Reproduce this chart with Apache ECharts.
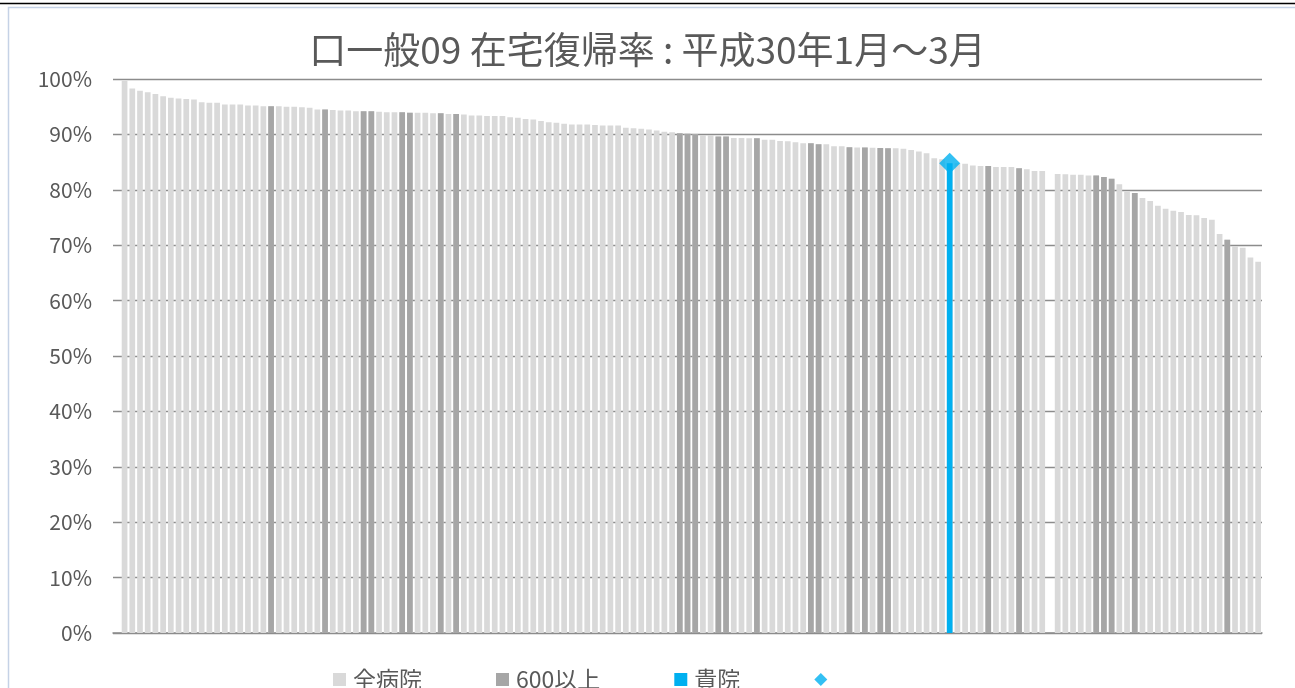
<!DOCTYPE html>
<html><head><meta charset="utf-8">
<script src="https://cdn.jsdelivr.net/npm/echarts@6/dist/echarts.min.js"></script>
<style>html,body{margin:0;padding:0;background:#fff}#c{width:1295px;height:688px}</style>
</head><body><div id="c"></div>
<script>
// ---- data ----
const titleText = '口一般09 在宅復帰率 : 平成30年1月～3月';
const seriesNames = ['全病院', '600以上', '貴院', ' '];
const yTickValues = [0, 10, 20, 30, 40, 50, 60, 70, 80, 90, 100];
// 在宅復帰率 (%) for every hospital, sorted; first slot and slot 121 are empty
const allHospitals = [null,
  99.7, 98.3, 97.9, 97.6, 97.3, 96.9, 96.6, 96.5, 96.4, 96.3,
  95.8, 95.7, 95.7, 95.4, 95.4, 95.4, 95.2, 95.2, 95.1, 95.1,
  95.1, 95.0, 95.0, 94.9, 94.8, 94.5, 94.5, 94.4, 94.3, 94.3,
  94.2, 94.2, 94.2, 94.1, 94.0, 94.0, 94.0, 93.9, 93.9, 93.9,
  93.8, 93.8, 93.7, 93.7, 93.6, 93.4, 93.4, 93.3, 93.3, 93.3,
  93.1, 93.0, 92.8, 92.7, 92.4, 92.2, 92.1, 91.9, 91.8, 91.8,
  91.8, 91.7, 91.6, 91.6, 91.6, 91.2, 91.1, 91.0, 90.9, 90.7,
  90.5, 90.4, 90.2, 90.1, 90.0, 89.9, 89.9, 89.6, 89.6, 89.35,
  89.35, 89.3, 89.3, 89.05, 89.05, 88.8, 88.75, 88.6, 88.4, 88.4,
  88.2, 88.2, 87.85, 87.85, 87.7, 87.65, 87.65, 87.6, 87.55, 87.5,
  87.5, 87.4, 87.2, 86.9, 86.6, 85.7, 85.5, 84.8, 84.8, 84.7,
  84.4, 84.3, 84.3, 84.1, 84.1, 84.1, 83.9, 83.7, 83.4, 83.4,
  null, 82.85, 82.8, 82.7, 82.7, 82.6, 82.6, 82.3, 82.0, 81.0,
  79.7, 79.4, 78.5, 78.0, 77.1, 76.6, 76.2, 76.0, 75.45, 75.4,
  74.9, 74.6, 72.0, 71.0, 69.8, 69.55, 67.8, 67.0
];
// positions of hospitals with 600 beds or more
const largeHospitalIdx = [20, 27, 32, 33, 37, 38, 42, 44, 73, 74, 75, 78, 79, 83,
  90, 91, 95, 97, 99, 100, 113, 117, 127, 128, 129, 132, 144];
// position of own hospital
const ownHospitalIdx = 108;

// ---- build ----
const categories = allHospitals.map((_, i) => String(i));
const largeSeries = allHospitals.map((v, i) => largeHospitalIdx.includes(i) ? v : null);
const ownSeries = allHospitals.map((v, i) => i === ownHospitalIdx ? v : null);
const markerSeries = [[String(ownHospitalIdx), allHospitals[ownHospitalIdx]]];

const FONT = '"Noto Sans CJK JP", "Noto Sans", sans-serif';
const TXT = '#595959';
const GRID = '#8c8c8c';

const chart = echarts.init(document.getElementById('c'), null, { renderer: 'canvas' });
chart.setOption({
  animation: false,
  backgroundColor: '#ffffff',
  textStyle: { fontFamily: FONT },
  title: {
    text: titleText, left: 'center', top: 26,
    textStyle: { fontFamily: FONT, fontSize: 37, fontWeight: 'normal', color: TXT }
  },
  graphic: [
    { type: 'line', shape: { x1: 0, y1: 3.5, x2: 1295, y2: 3.5 }, style: { stroke: '#000', lineWidth: 1.5 }, silent: true },
    { type: 'rect', shape: { x: 8.5, y: 7.5, width: 1300, height: 700 }, style: { fill: 'none', stroke: '#c5d2e6', lineWidth: 1.5 }, silent: true }
  ],
  legend: {
    top: 663, left: 328,
    itemGap: 74, itemWidth: 13, itemHeight: 13,
    textStyle: { fontFamily: FONT, fontSize: 23, color: TXT, padding: [0, 0, 0, 2] },
    data: [
      { name: seriesNames[0], icon: 'rect' },
      { name: seriesNames[1], icon: 'rect' },
      { name: seriesNames[2], icon: 'rect' },
      { name: seriesNames[3], icon: 'diamond', itemStyle: { color: '#00b0f0' } }
    ]
  },
  grid: { left: 113, right: 33, top: 79, bottom: 55, containLabel: false },
  xAxis: {
    type: 'category', data: categories,
    axisLine: { show: true, lineStyle: { color: GRID, width: 1.5 } },
    axisTick: { show: false }, axisLabel: { show: false }, splitLine: { show: false }
  },
  yAxis: {
    type: 'value', min: yTickValues[0], max: yTickValues[yTickValues.length - 1], interval: 10,
    axisLine: { show: false }, axisTick: { show: false },
    axisLabel: { formatter: '{value}%', fontFamily: FONT, fontSize: 21, color: TXT, margin: 21 },
    splitLine: { show: true, lineStyle: { color: GRID, width: 1.3 } }
  },
  series: [
    { name: seriesNames[0], type: 'bar', data: allHospitals, barGap: '-100%', barCategoryGap: '26%',
      itemStyle: { color: '#d9d9d9' } },
    { name: seriesNames[1], type: 'bar', data: largeSeries, barGap: '-100%', barCategoryGap: '26%',
      itemStyle: { color: '#a6a6a6' } },
    { name: seriesNames[2], type: 'bar', data: ownSeries, barGap: '-100%', barCategoryGap: '26%',
      itemStyle: { color: '#00b0f0' } },
    { name: seriesNames[3], type: 'scatter', data: markerSeries, symbol: 'diamond', symbolSize: 21,
      itemStyle: { color: '#00b0f0' }, z: 5 }
  ]
});
</script></body></html>
